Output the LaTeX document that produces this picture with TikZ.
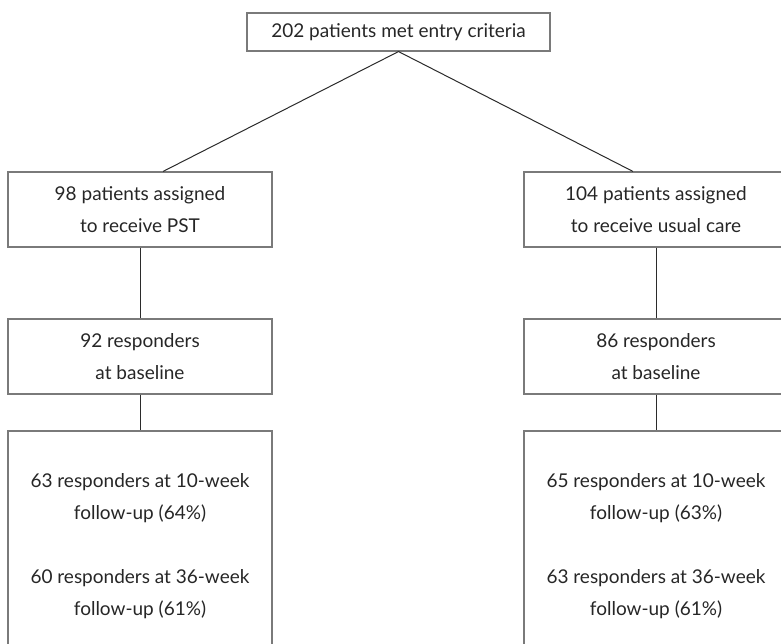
\documentclass[tikz,border=0pt]{standalone}
\usepackage{fontspec}
\setmainfont{Lato}
\usetikzlibrary{calc}
\definecolor{txt}{HTML}{262626}
\definecolor{boxline}{HTML}{7A7A7A}
\definecolor{conn}{HTML}{2B2B2B}
\begin{document}
\begin{tikzpicture}[x=1pt,y=1pt,
  box/.style={draw=boxline, line width=1.1pt, rectangle, inner sep=0pt, align=center,
    text=txt, font=\fontsize{19}{32}\selectfont},
  conn/.style={draw=conn, line width=1pt}]
\clip (0,0) rectangle (781,-643);
\useasboundingbox (0,0) rectangle (781,-643);
\node[box, minimum width=303, minimum height=38] (top) at (398.5,-32) {202 patients met entry criteria};
\node[box, minimum width=264, minimum height=75] (pst) at (140,-209.5) {98 patients assigned\\to receive PST};
\node[box, minimum width=264, minimum height=75] (uc) at (656,-209.5) {104 patients assigned\\to receive usual care};
\node[box, minimum width=264, minimum height=75] (pstb) at (140,-356.5) {92 responders\\at baseline};
\node[box, minimum width=264, minimum height=75] (ucb) at (656,-356.5) {86 responders\\at baseline};
\node[box, minimum width=264, minimum height=230] (pstf) at (140,-546) {63 responders at 10-week\\follow-up (64\%)\\[32pt]60 responders at 36-week\\follow-up (61\%)};
\node[box, minimum width=264, minimum height=230] (ucf) at (656,-546) {65 responders at 10-week\\follow-up (63\%)\\[32pt]63 responders at 36-week\\follow-up (61\%)};
\draw[conn] ([xshift=23pt]pst.north) -- (top.south) -- ([xshift=-23pt]uc.north);
\draw[conn] (pst.south) -- (pstb.north);
\draw[conn] (pstb.south) -- (pstf.north);
\draw[conn] (uc.south) -- (ucb.north);
\draw[conn] (ucb.south) -- (ucf.north);
\end{tikzpicture}
\end{document}
